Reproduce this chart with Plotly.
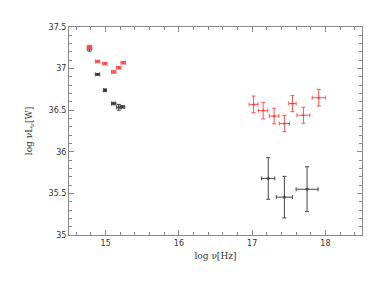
import plotly.graph_objects as go

# Red (optical/UV + X-ray) points
red_x = [14.78, 14.89, 14.99, 15.11, 15.18, 15.24, 17.02, 17.15, 17.30, 17.44, 17.55, 17.70, 17.91]
red_y = [37.26, 37.085, 37.06, 36.96, 37.01, 37.07, 36.57, 36.495, 36.43, 36.34, 36.58, 36.44, 36.65]
red_xerr = [0.03, 0.03, 0.03, 0.03, 0.03, 0.03, 0.06, 0.065, 0.065, 0.07, 0.05, 0.088, 0.09]
red_yerr = [0.02, 0.015, 0.015, 0.015, 0.015, 0.015, 0.1, 0.1, 0.094, 0.098, 0.098, 0.096, 0.1]

# Black points
blk_x = [14.78, 14.89, 14.99, 15.11, 15.18, 15.23, 17.22, 17.44, 17.75]
blk_y = [37.24, 36.93, 36.74, 36.58, 36.535, 36.54, 35.68, 35.455, 35.55]
blk_xerr = [0.03, 0.03, 0.02, 0.03, 0.03, 0.03, 0.09, 0.11, 0.15]
blk_yerr = [0.03, 0.01, 0.015, 0.015, 0.035, 0.015, 0.25, 0.25, 0.27]

x_ticks = [15, 16, 17, 18]
y_ticks = [35, 35.5, 36, 36.5, 37, 37.5]
y_ticktext = ["35", "35.5", "36", "36.5", "37", "37.5"]

fig = go.Figure()
fig.add_trace(go.Scatter(
    x=blk_x, y=blk_y, mode="markers",
    marker=dict(color="#333333", size=3, symbol="star"),
    error_x=dict(type="data", array=blk_xerr, color="#444444", thickness=1, width=2),
    error_y=dict(type="data", array=blk_yerr, color="#444444", thickness=1, width=2),
    showlegend=False))
fig.add_trace(go.Scatter(
    x=red_x, y=red_y, mode="markers",
    marker=dict(color="#ff3030", size=3, symbol="triangle-up"),
    error_x=dict(type="data", array=red_xerr, color="#ff5050", thickness=1, width=2),
    error_y=dict(type="data", array=red_yerr, color="#ff5050", thickness=1, width=2),
    showlegend=False))

axis_common = dict(showline=True, linecolor="#888888", linewidth=1, mirror="ticks",
                   ticks="inside", tickcolor="#888888", ticklen=5, showgrid=False,
                   zeroline=False, tickfont=dict(size=8, color="#333333", family="DejaVu Sans"))
fig.update_xaxes(range=[14.5, 18.5], tickvals=x_ticks,
                 minor=dict(dtick=0.2, ticks="inside", ticklen=3, tickcolor="#888888"),
                 title=dict(text="log ν[Hz]", font=dict(size=9, family="DejaVu Serif", color="#333333"),
                            standoff=6),
                 **axis_common)
fig.update_yaxes(range=[35, 37.5], tickvals=y_ticks, ticktext=y_ticktext,
                 minor=dict(dtick=0.1, ticks="inside", ticklen=3, tickcolor="#888888"),
                 title=dict(text="log νL<sub>ν</sub>[W]", font=dict(size=9, family="DejaVu Serif", color="#333333"),
                            standoff=14),
                 **axis_common)
fig.update_layout(width=366, height=281, margin=dict(l=61, r=12, t=19, b=54),
                  paper_bgcolor="white", plot_bgcolor="white")
fig.write_html("out.html")
